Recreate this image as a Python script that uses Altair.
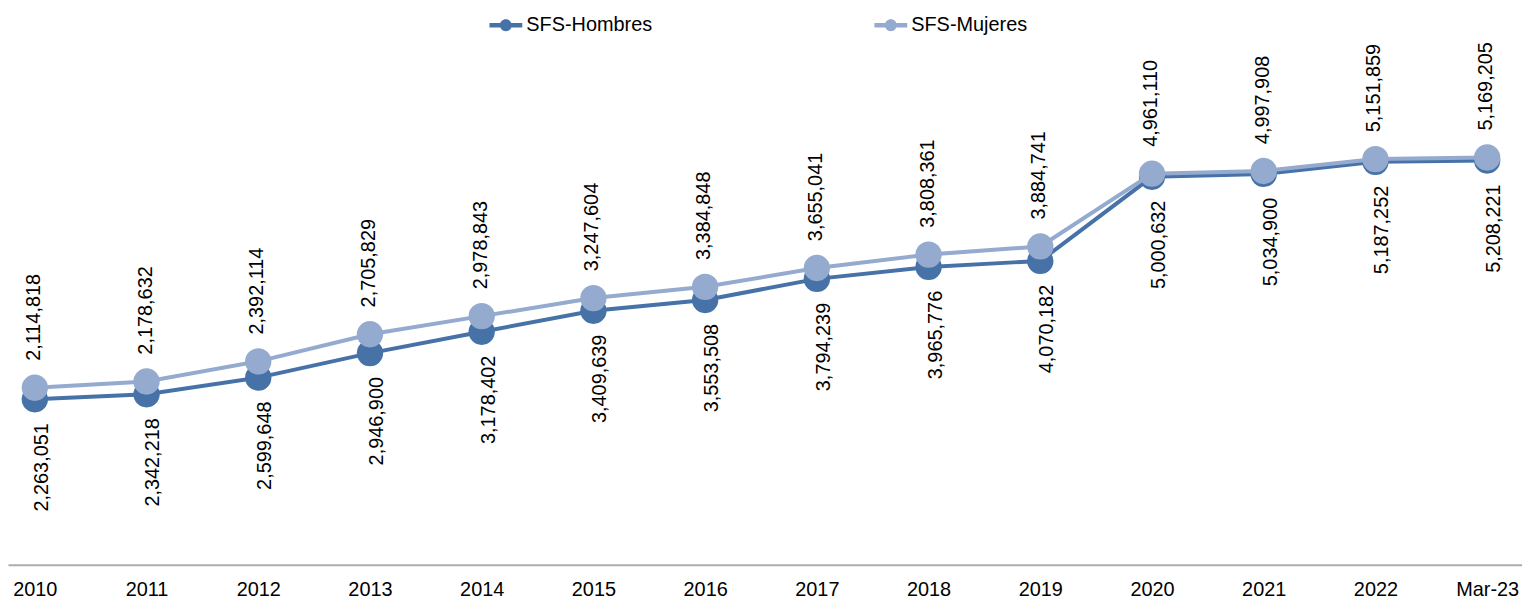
import altair as alt
import pandas as pd

# ---- data ----
periodos = ["2010", "2011", "2012", "2013", "2014", "2015", "2016",
            "2017", "2018", "2019", "2020", "2021", "2022", "Mar-23"]
hombres = [2114818, 2178632, 2392114, 2705829, 2978843, 3247604, 3384848,
           3655041, 3808361, 3884741, 4961110, 4997908, 5151859, 5169205]
mujeres = [2263051, 2342218, 2599648, 2946900, 3178402, 3409639, 3553508,
           3794239, 3965776, 4070182, 5000632, 5034900, 5187252, 5208221]
series = ["SFS-Hombres", "SFS-Mujeres"]
colores = ["#4672A8", "#94AACF"]

n = len(periodos)
long_df = pd.DataFrame({
    "periodo": periodos * 2,
    "serie": [series[0]] * n + [series[1]] * n,
    "valor": hombres + mujeres,
})
wide_df = pd.DataFrame({"periodo": periodos, "hombres": hombres, "mujeres": mujeres})

FONT = "Arial"

x_enc = alt.X(
    "periodo:N", sort=periodos,
    scale=alt.Scale(type="point", padding=0.276, align=0.435),
    axis=alt.Axis(title=None, ticks=False, grid=False, labelAngle=0,
                  labelFontSize=20, labelFont=FONT, labelFontWeight="normal",
                  labelColor="black", labelPadding=15,
                  domainColor="#ADADAD", domainWidth=2),
)
y_scale = alt.Scale(domain=[0, 7100000], nice=False, zero=True)

color_scale = alt.Scale(domain=series, range=colores)
legend_path = ("M-1,-0.14L1,-0.14L1,0.14L-1,0.14Z"
               "M-0.36,0A0.36,0.36,0,1,1,0.36,0A0.36,0.36,0,1,1,-0.36,0Z")
legend = alt.Legend(title=None, orient="none", legendX=484, legendY=-1,
                    direction="horizontal", symbolType=legend_path,
                    symbolSize=1089, symbolStrokeWidth=0, labelFontSize=20,
                    labelFont=FONT, labelFontWeight="normal",
                    labelColor="black", columnPadding=223,
                    labelOffset=4, padding=0)

base = alt.Chart(long_df)


def serie_layers(i):
    name = series[i]
    sub = base.transform_filter(alt.datum.serie == name)
    line = sub.mark_line(strokeWidth=4, color=colores[i]).encode(
        x=x_enc,
        y=alt.Y("valor:Q", scale=y_scale, axis=None),
    )
    pts = sub.mark_circle(size=700, opacity=1).encode(
        x=x_enc,
        y=alt.Y("valor:Q", scale=y_scale, axis=None),
        fill=alt.Fill("serie:N", scale=color_scale, legend=legend),
    )
    return [line, pts]


wide = alt.Chart(wide_df)
labels_top = wide.mark_text(angle=270, align="left", baseline="alphabetic",
                            dx=27, dy=5, fontSize=20, font=FONT,
                            fontWeight="normal", color="black").encode(
    x=x_enc,
    y=alt.Y("mujeres:Q", scale=y_scale, axis=None),
    text=alt.Text("hombres:Q", format=",d"),
)
labels_bottom = wide.mark_text(angle=270, align="right", baseline="alphabetic",
                               dx=-24, dy=13, fontSize=20, font=FONT,
                               fontWeight="normal", color="black").encode(
    x=x_enc,
    y=alt.Y("hombres:Q", scale=y_scale, axis=None),
    text=alt.Text("mujeres:Q", format=",d"),
)

chart = alt.layer(
    *serie_layers(0), *serie_layers(1), labels_top, labels_bottom
).properties(
    width=1522, height=558,
    autosize=alt.AutoSizeParams(type="none"),
    padding={"left": 0, "top": 0, "right": 0, "bottom": 40},
    background="white",
).configure_view(stroke=None)

chart.save("out.html", embed_options={"renderer": "svg", "actions": False})
